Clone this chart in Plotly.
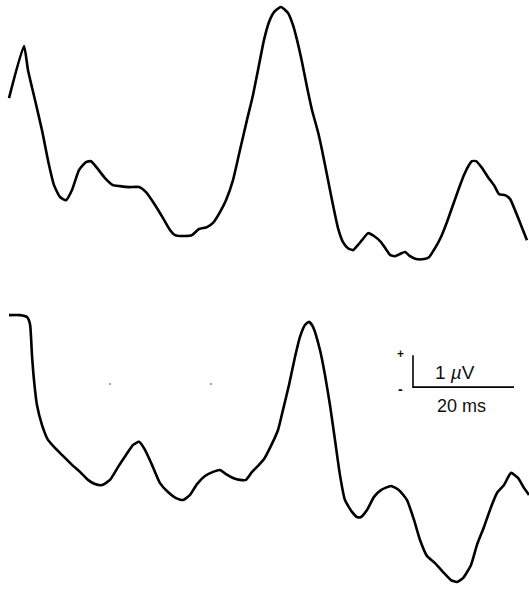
import plotly.graph_objects as go

# Upper waveform: time (ms) and amplitude (µV)
time_top = [0.0, 2.97, 3.76, 5.15, 6.53, 7.92, 8.91, 10.10, 11.29, 12.48, 13.86, 15.25,
            16.24, 17.43, 19.01, 20.59, 21.98, 23.76, 25.74, 27.13, 28.91, 30.50, 31.88,
            32.87, 34.85, 36.24, 37.62, 39.21, 40.40, 41.78, 42.97, 44.36, 45.74, 47.13,
            48.32, 49.31, 50.50, 51.49, 52.48, 53.86, 55.25, 56.24, 57.03, 58.02, 59.01,
            60.00, 61.19, 61.98, 63.17, 64.16, 65.15, 66.14, 67.13, 68.12, 69.11, 69.90,
            71.09, 72.28, 73.66, 74.65, 75.45, 76.44, 77.43, 78.42, 79.41, 80.59, 82.18,
            83.17, 84.36, 85.54, 86.73, 87.92, 89.11, 90.10, 91.09, 91.68, 92.48, 93.66,
            94.85, 96.04, 97.03, 98.22, 99.21, 100.20, 101.39, 102.57]
amp_top = [2.56, 4.19, 3.44, 2.50, 1.56, 0.47, -0.16, -0.53, -0.63, -0.31, 0.31, 0.56,
           0.59, 0.38, 0.06, -0.16, -0.19, -0.22, -0.22, -0.38, -0.78, -1.19, -1.56,
           -1.72, -1.75, -1.72, -1.53, -1.47, -1.34, -1.00, -0.63, 0.00, 0.94, 1.88,
           2.66, 3.44, 4.38, 4.94, 5.25, 5.41, 5.22, 4.84, 4.38, 3.69, 2.91,
           2.19, 1.50, 0.94, 0.00, -0.78, -1.50, -1.94, -2.13, -2.19, -2.03, -1.88,
           -1.66, -1.75, -1.94, -2.16, -2.34, -2.38, -2.31, -2.25, -2.38, -2.47, -2.47,
           -2.41, -2.13, -1.78, -1.31, -0.78, -0.25, 0.16, 0.47, 0.59, 0.59, 0.38,
           0.09, -0.16, -0.44, -0.47, -0.59, -0.94, -1.41, -1.88]

# Lower waveform: time (ms) and amplitude (µV)
time_bot = [0.0, 2.18, 3.56, 4.16, 4.55, 4.95, 5.54, 6.53, 7.72, 9.11, 10.50, 12.48,
            14.06, 15.64, 17.03, 18.42, 20.00, 21.58, 23.17, 24.55, 25.74, 26.93, 28.32,
            29.90, 31.49, 33.07, 34.46, 35.84, 37.23, 38.81, 40.40, 41.78, 42.97, 44.36,
            45.74, 46.93, 48.12, 49.31, 50.50, 51.68, 53.27, 54.26, 55.45, 56.63, 57.62,
            58.61, 59.41, 60.20, 61.58, 62.57, 63.56, 64.55, 65.54, 66.53, 67.92, 68.91,
            69.70, 70.89, 72.28, 73.66, 75.64, 77.23, 78.81, 80.20, 81.39, 82.77, 84.36,
            85.94, 87.52, 88.71, 89.90, 91.49, 92.67, 94.06, 95.45, 96.63, 98.02, 99.41,
            100.79, 101.98, 102.97]
amp_bot = [4.84, 4.84, 4.78, 4.56, 3.59, 2.81, 2.03, 1.41, 0.94, 0.69, 0.47, 0.16,
           -0.06, -0.31, -0.44, -0.47, -0.31, 0.09, 0.47, 0.78, 0.88, 0.63, 0.16,
           -0.41, -0.69, -0.88, -0.94, -0.78, -0.44, -0.19, -0.06, 0.00, -0.13, -0.25,
           -0.31, -0.31, -0.06, 0.13, 0.34, 0.69, 1.25, 1.88, 2.66, 3.53, 4.16,
           4.53, 4.63, 4.47, 3.75, 2.97, 2.03, 0.94, -0.16, -0.94, -1.31, -1.47,
           -1.47, -1.25, -0.84, -0.63, -0.50, -0.63, -0.94, -1.56, -2.19, -2.69, -2.91,
           -3.19, -3.44, -3.50, -3.38, -2.97, -2.34, -1.78, -1.16, -0.72, -0.47, -0.09,
           -0.25, -0.56, -0.78]

# Calibration bar values
scale_ms = 20
scale_uv = 1
scale_t0 = 80
scale_base = 2.59

# Vertical separation between the stacked traces (µV)
top_offset = 9.0625

fig = go.Figure()

fig.add_trace(go.Scatter(
    x=time_top, y=[a + top_offset for a in amp_top], mode="lines",
    line=dict(color="black", width=2.6, shape="spline", smoothing=0.5),
    hoverinfo="skip", showlegend=False))

fig.add_trace(go.Scatter(
    x=time_bot, y=amp_bot, mode="lines",
    line=dict(color="black", width=2.6, shape="spline", smoothing=0.5),
    hoverinfo="skip", showlegend=False))

# Calibration bar: vertical 1 µV, horizontal 20 ms
fig.add_trace(go.Scatter(
    x=[scale_t0, scale_t0, scale_t0 + scale_ms],
    y=[scale_base + scale_uv, scale_base, scale_base],
    mode="lines", line=dict(color="black", width=1.6),
    hoverinfo="skip", showlegend=False))

# faint tick marks left on the lower trace area
fig.add_trace(go.Scatter(
    x=[20, 40], y=[2.69, 2.69], mode="markers",
    marker=dict(color="#888888", size=2),
    hoverinfo="skip", showlegend=False))

font = dict(family="Liberation Sans, Arial, sans-serif", color="#111111")
fig.add_annotation(x=scale_t0 + scale_ms / 2 - 1.6, y=scale_base + scale_uv / 2 - 0.03,
                   text=f"{scale_uv} <i>µ</i>V", showarrow=False,
                   font=dict(size=19, **font), xanchor="center", yanchor="middle")
fig.add_annotation(x=scale_t0 + scale_ms / 2 - 0.3, y=scale_base - 0.59,
                   text=f"{scale_ms} ms", showarrow=False,
                   font=dict(size=18, **font), xanchor="center", yanchor="middle")
fig.add_annotation(x=scale_t0 - 2.4, y=scale_base + scale_uv + 0.02,
                   text="<b>+</b>", showarrow=False,
                   font=dict(size=12, **font), xanchor="center", yanchor="middle")
fig.add_annotation(x=scale_t0 - 2.4, y=scale_base - 0.06,
                   text="<b>-</b>", showarrow=False,
                   font=dict(size=14, **font), xanchor="center", yanchor="middle")

fig.update_layout(
    width=529, height=589,
    margin=dict(l=0, r=0, t=0, b=0),
    paper_bgcolor="white", plot_bgcolor="white",
    xaxis=dict(range=[-1.78, 102.97], visible=False, fixedrange=True),
    yaxis=dict(range=[-3.72, 14.69], visible=False, fixedrange=True),
)

fig.write_html("out.html")
